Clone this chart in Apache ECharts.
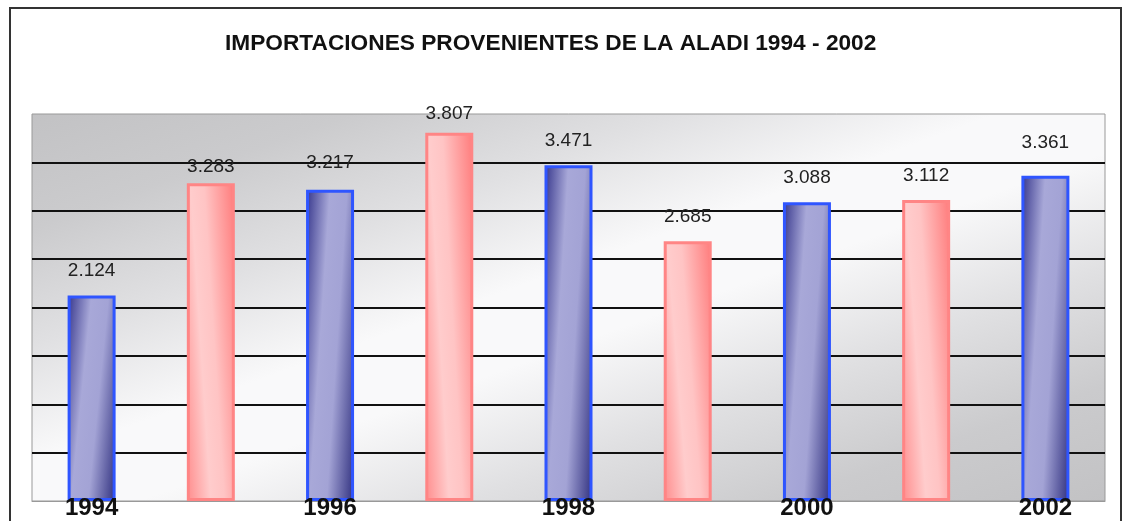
<!DOCTYPE html>
<html>
<head>
<meta charset="utf-8">
<title>Importaciones ALADI</title>
<script src="https://cdn.jsdelivr.net/npm/echarts@6/dist/echarts.min.js"></script>
<style>
  html, body { margin: 0; padding: 0; background: #fff; }
  #chart { width: 1125px; height: 521px; }
</style>
</head>
<body>
<div id="chart"></div>
<script>
// datos
var years = ['1994', '1995', '1996', '1997', '1998', '1999', '2000', '2001', '2002'];
var imports = [2124, 3283, 3217, 3807, 3471, 2685, 3088, 3112, 3361];
var yMin = 0, yMax = 4000, yStep = 500;

var chart = echarts.init(document.getElementById('chart'));

var plotW = 1073, plotH = 387, barW = 48;

// degradado "inclinado" de las barras (como el relleno de Excel)
function shade(v, a, b, stops) {
  var h = (v - yMin) / (yMax - yMin) * plotH;
  var D = a * a / (barW * barW) + b * b / (h * h);
  var gx = a / (barW * barW * D), gy = b / (h * h * D);
  var y0 = b < 0 ? 1 : 0;
  return new echarts.graphic.LinearGradient(0, y0, gx, y0 + gy, stops);
}

var blueStops = [
  { offset: 0, color: '#35358b' },
  { offset: 0.35, color: '#a8a8d8' },
  { offset: 0.6, color: '#a3a3d5' },
  { offset: 1, color: '#30307f' }
];
var pinkStops = [
  { offset: 0, color: '#ff8c8c' },
  { offset: 0.35, color: '#ffcccc' },
  { offset: 0.55, color: '#ffc4c4' },
  { offset: 1, color: '#ff7a7a' }
];

// fondo del área: gris en las esquinas sup-izq e inf-der, blanco en la diagonal
var L2 = plotW * plotW + plotH * plotH;
var bx = plotH * plotH / L2, by = plotW * plotW / L2;
var plotBg = new echarts.graphic.LinearGradient(0.5 - bx, 0.5 - by, 0.5 + bx, 0.5 + by, [
  { offset: 0, color: '#c2c2c4' },
  { offset: 0.15, color: '#cbcbcd' },
  { offset: 0.3, color: '#e0e0e2' },
  { offset: 0.45, color: '#f9f9fa' },
  { offset: 0.55, color: '#f9f9fa' },
  { offset: 0.7, color: '#e0e0e2' },
  { offset: 0.85, color: '#cbcbcd' },
  { offset: 1, color: '#c2c2c4' }
]);

// separación de las etiquetas que no siguen la regla
var labelGap = { 1: 7, 2: 17, 3: 9, 8: 24 };

function fmt(v) {
  return String(v).replace(/\B(?=(\d{3})+(?!\d))/g, '.');
}

var barData = imports.map(function (v, i) {
  var blue = i % 2 === 0;
  return {
    value: v,
    itemStyle: {
      color: blue ? shade(v, 0.7, 0.3, blueStops) : shade(v, 0.7, -0.3, pinkStops),
      borderColor: blue ? '#2f55ff' : '#ff8585',
      borderWidth: 3
    },
    label: { distance: labelGap[i] !== undefined ? labelGap[i] : 15 }
  };
});

var option = {
  backgroundColor: '#fff',
  animation: false,
  title: {
    text: 'IMPORTACIONES PROVENIENTES DE LA ALADI 1994 - 2002',
    left: 220,
    top: 27,
    textStyle: {
      fontFamily: 'Liberation Sans, Arial, sans-serif',
      fontSize: 22.7,
      fontWeight: 'bold',
      color: '#111'
    }
  },
  graphic: [{
    type: 'rect',
    shape: { x: 10, y: 8, width: 1111, height: 530 },
    style: { fill: 'none', stroke: '#333', lineWidth: 2 },
    z: -1
  }],
  grid: {
    left: 32,
    right: 20,
    top: 114,
    bottom: 20,
    show: true,
    borderColor: '#999',
    borderWidth: 1,
    outerBoundsMode: 'none',
    backgroundColor: plotBg
  },
  xAxis: {
    type: 'category',
    data: years,
    axisTick: { show: false },
    axisLine: { lineStyle: { color: '#999', width: 1 } },
    axisLabel: {
      interval: 1,
      margin: -5,
      fontFamily: 'Liberation Sans, Arial, sans-serif',
      fontSize: 24,
      fontWeight: 'bold',
      color: '#111',
      lineHeight: 24
    },
    z: 10
  },
  yAxis: {
    type: 'value',
    min: yMin,
    max: yMax,
    interval: yStep,
    axisLabel: { show: false },
    axisLine: { show: false },
    axisTick: { show: false },
    splitLine: {
      lineStyle: {
        color: ['transparent', '#111', '#111', '#111', '#111', '#111', '#111', '#111', 'transparent'],
        width: 2
      }
    }
  },
  series: [{
    type: 'bar',
    data: barData,
    barWidth: barW,
    label: {
      show: true,
      position: 'top',
      formatter: function (p) { return fmt(p.value); },
      fontFamily: 'Liberation Sans, Arial, sans-serif',
      fontSize: 19,
      color: '#222'
    }
  }]
};

chart.setOption(option);
</script>
</body>
</html>
